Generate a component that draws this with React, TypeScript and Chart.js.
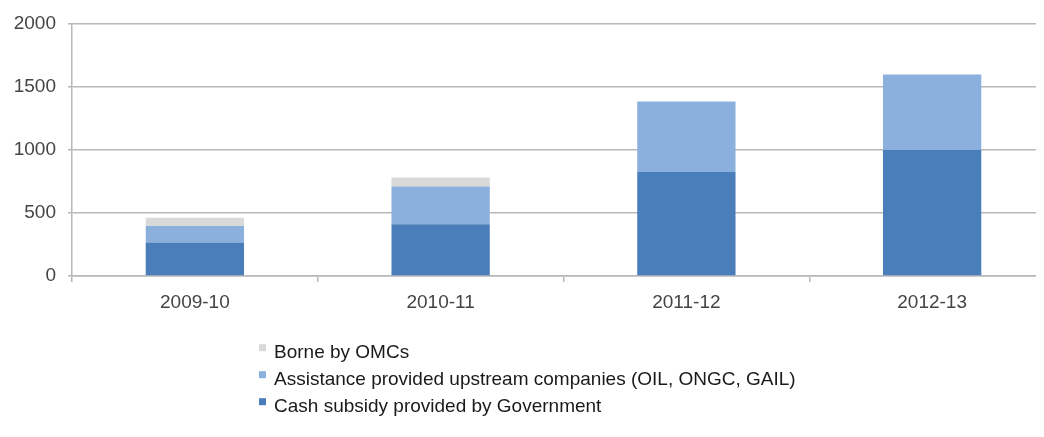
import React, { useEffect, useRef } from "react";
import { Chart, registerables } from "chart.js";

Chart.register(...registerables);

const categories = ["2009-10", "2010-11", "2011-12", "2012-13"];
const cashSubsidy = [265, 410, 825, 1000];
const upstreamAssistance = [132, 300, 560, 600];
const borneByOMCs = [66, 72, 0, 0];
const yTicks = [0, 500, 1000, 1500, 2000];
const seriesLabels = [
  "Cash subsidy provided by Government",
  "Assistance provided upstream companies (OIL, ONGC, GAIL)",
  "Borne by OMCs",
];
const seriesColors = ["#4a7ebb", "#8cb0de", "#d9d9d9"];

const FONT = "'Liberation Sans', Arial, Helvetica, sans-serif";
const GRID = "#b8b8b8";

const stackLegend = {
  id: "stackLegend",
  afterDraw(chart: any) {
    const ctx = chart.ctx;
    const ds = chart.data.datasets;
    const top = chart.chartArea.bottom;
    ctx.save();
    ctx.font = `19px ${FONT}`;
    ctx.textBaseline = "alphabetic";
    ctx.textAlign = "left";
    const order = ds.map((_: any, i: number) => i).reverse();
    order.forEach((di: number, row: number) => {
      const base = top + 81.7 + row * 27;
      ctx.fillStyle = ds[di].backgroundColor;
      ctx.fillRect(251, base - 13.5, 7, 7);
      ctx.fillStyle = "#1a1a1a";
      ctx.fillText(ds[di].label, 266, base);
    });
    ctx.restore();
  },
};

export default function App() {
  const ref = useRef<HTMLCanvasElement | null>(null);

  useEffect(() => {
    if (!ref.current) return;
    const values = [cashSubsidy, upstreamAssistance, borneByOMCs];
    const chart = new Chart(ref.current, {
      type: "bar",
      data: {
        labels: categories,
        datasets: values.map((v, i) => ({
          label: seriesLabels[i],
          data: v,
          backgroundColor: seriesColors[i],
          borderWidth: 0,
          categoryPercentage: 1,
          barPercentage: 0.4,
        })),
      },
      options: {
        animation: false,
        responsive: true,
        maintainAspectRatio: false,
        layout: { padding: { top: 16, right: 3, left: 0, bottom: 0 } },
        plugins: {
          legend: { display: false },
          tooltip: { enabled: false },
        },
        scales: {
          x: {
            stacked: true,
            grid: {
              display: true,
              drawOnChartArea: false,
              drawTicks: true,
              tickLength: 6,
              color: GRID,
              lineWidth: 1.5,
              offset: true,
            },
            border: { display: true, color: GRID, width: 1.5 },
            ticks: {
              font: { family: FONT, size: 19 },
              color: "#444",
              padding: 9,
              maxRotation: 0,
            },
            afterFit: (s: any) => {
              s.height = 153;
              s.paddingLeft = 0;
              s.paddingRight = 0;
            },
          },
          y: {
            stacked: true,
            min: 0,
            max: 2000,
            afterBuildTicks: (s: any) => {
              s.ticks = yTicks.map((v) => ({ value: v }));
            },
            grid: {
              color: GRID,
              lineWidth: 1.5,
              tickLength: 4,
              drawTicks: true,
            },
            border: { display: true, color: GRID, width: 1.5 },
            ticks: {
              font: { family: FONT, size: 19 },
              color: "#444",
              padding: 12,
              callback: (v: any) => String(v),
            },
            afterFit: (s: any) => {
              s.width = 64;
              s.paddingTop = 0;
              s.paddingBottom = 0;
            },
          },
        },
      },
      plugins: [stackLegend],
    });
    return () => chart.destroy();
  }, []);

  return (
    <div style={{ width: 1036, height: 421, overflow: "hidden", position: "relative" }}>
      <div style={{ width: 1050, height: 421, position: "relative" }}>
        <canvas ref={ref} />
      </div>
    </div>
  );
}
